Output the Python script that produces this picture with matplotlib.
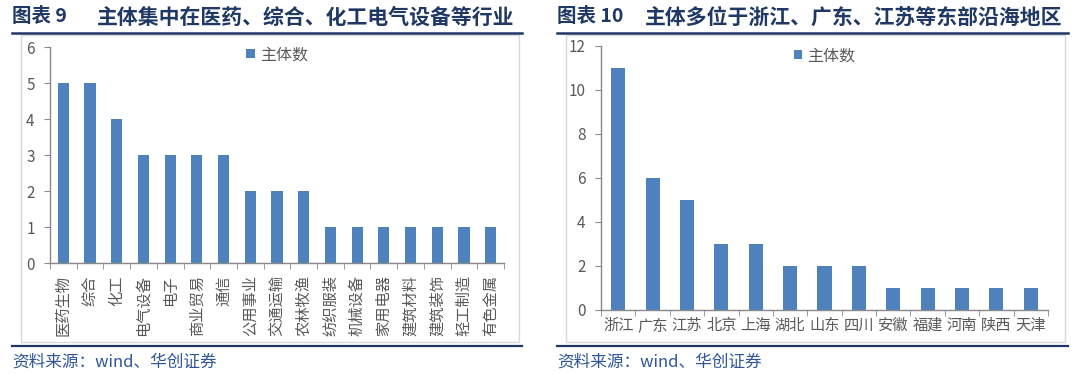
import numpy as np
import matplotlib
matplotlib.use('Agg')
import matplotlib.pyplot as plt
from matplotlib.patches import Rectangle
from matplotlib.lines import Line2D

plt.rcParams['font.family'] = ['Noto Sans CJK SC', 'DejaVu Sans']

industries = ['医药生物', '综合', '化工', '电气设备', '电子', '商业贸易', '通信',
              '公用事业', '交通运输', '农林牧渔', '纺织服装', '机械设备', '家用电器',
              '建筑材料', '建筑装饰', '轻工制造', '有色金属']
industry_counts = [5, 5, 4, 3, 3, 3, 3, 2, 2, 2, 1, 1, 1, 1, 1, 1, 1]

regions = ['浙江', '广东', '江苏', '北京', '上海', '湖北', '山东', '四川',
           '安徽', '福建', '河南', '陕西', '天津']
region_counts = [11, 6, 5, 3, 3, 2, 2, 2, 1, 1, 1, 1, 1]

W, H = 1080, 375
BAR = '#4F81BD'
GRAY = '#595959'
NAVY = '#1F3864'
SRC = '#2F5597'

fig = plt.figure(figsize=(W / 100, H / 100), dpi=100)


def px_axes(x0, x1, ytop, ybot):
    return fig.add_axes([x0 / W, 1 - ybot / H, (x1 - x0) / W, (ybot - ytop) / H])


def frame(x0, x1, label, title, gap):
    # title, rules and chart box in pixel coordinates
    fig.text(x0 / W, 1 - 17 / H, label, fontsize=14, fontweight='bold',
             color=NAVY, va='center', ha='left')
    fig.text((x0 + gap) / W, 1 - 17 / H, title, fontsize=15, fontweight='bold',
             color=NAVY, va='center', ha='left')
    fig.add_artist(Line2D([x0 / W, x1 / W], [1 - 33 / H, 1 - 33 / H],
                          color=NAVY, lw=1.8))
    fig.add_artist(Line2D([x0 / W, x1 / W], [1 - 346 / H, 1 - 346 / H],
                          color=NAVY, lw=1.6))
    fig.add_artist(Rectangle(((x0 + 9) / W, 1 - 342 / H), (x1 - x0 - 12) / W,
                             307 / H, fill=False, ec='#D9D9D9', lw=1))
    fig.text(x0 / W, 1 - 362 / H, '资料来源：wind、华创证券', fontsize=12,
             style='italic', color=SRC, va='center', ha='left')


def style_axes(ax, n, ymax, step):
    ax.set_xlim(-0.5, n - 0.5)
    ax.set_ylim(0, ymax)
    ax.set_yticks(np.arange(0, ymax + step, step))
    for s in ['top', 'right']:
        ax.spines[s].set_visible(False)
    for s in ['left', 'bottom']:
        ax.spines[s].set_color('#898989')
        ax.spines[s].set_linewidth(1)
    ax.set_xticks(np.arange(-0.5, n, 1.0), minor=True)
    ax.tick_params(axis='x', which='minor', length=4, color='#898989', direction='out')
    ax.tick_params(axis='x', which='major', length=0, colors=GRAY, labelsize=11)
    ax.tick_params(axis='y', length=4, color='#898989', colors=GRAY, labelsize=11,
                   direction='out', pad=7)
    ax.patch.set_alpha(0)


frame(12, 522, '图表 9', '主体集中在医药、综合、化工电气设备等行业', 85)
frame(557, 1068, '图表 10', '主体多位于浙江、广东、江苏等东部沿海地区', 88)

ax1 = px_axes(50, 504, 47, 263)
x1 = np.arange(len(industries))
ax1.bar(x1, industry_counts, width=0.42, color=BAR, label='主体数')
style_axes(ax1, len(industries), 6, 1)
ax1.set_xticks(x1)
ax1.set_xticklabels(industries, rotation=90, va='top', ha='center')
ax1.tick_params(axis='x', which='major', pad=9)
ax1.legend(loc='upper center', bbox_to_anchor=(0.5, 1.07), frameon=False,
           handlelength=0.55, handleheight=0.55, handletextpad=0.3,
           prop={'size': 11.5}, labelcolor=GRAY)

ax2 = px_axes(601, 1048, 46, 310)
x2 = np.arange(len(regions))
ax2.bar(x2, region_counts, width=0.41, color=BAR, label='主体数')
style_axes(ax2, len(regions), 12, 2)
ax2.set_xticks(x2)
ax2.set_xticklabels(regions)
ax2.tick_params(axis='x', which='major', pad=5)
ax2.legend(loc='upper center', bbox_to_anchor=(0.5, 1.05), frameon=False,
           handlelength=0.55, handleheight=0.55, handletextpad=0.3,
           prop={'size': 11.5}, labelcolor=GRAY)

fig.savefig('out.png', dpi=100)
